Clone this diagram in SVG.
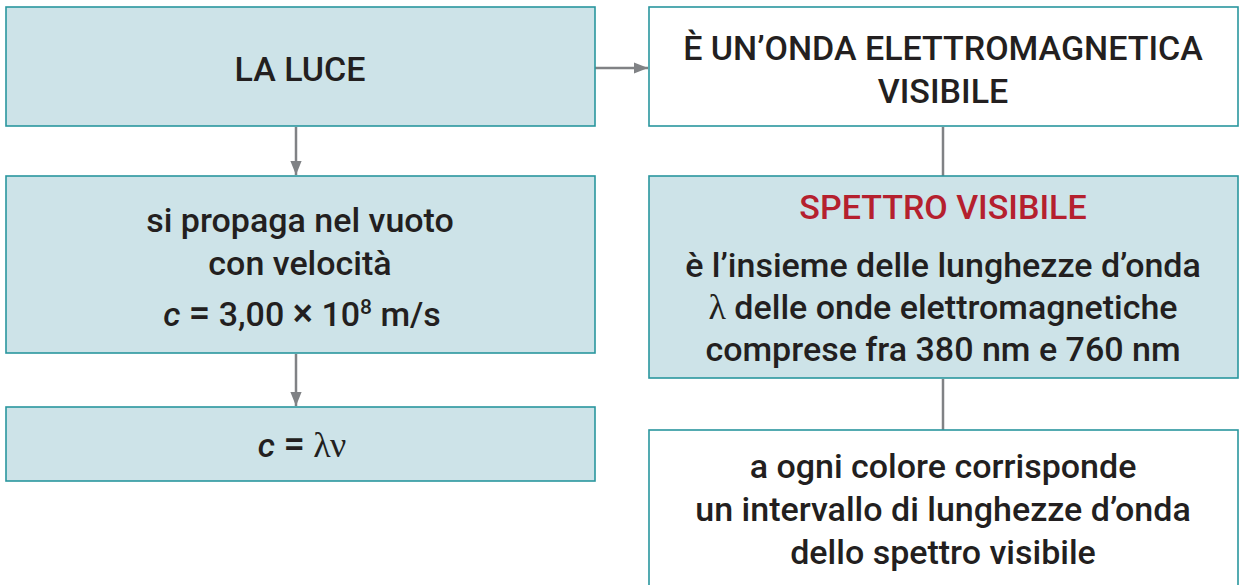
<svg xmlns="http://www.w3.org/2000/svg" width="1240" height="585" viewBox="0 0 1240 585">
<style>
.box{stroke:#2a969e;stroke-width:1.6}
.fill{fill:#cde3e8}
.white{fill:#ffffff}
.t{font-family:Roboto,"Liberation Sans",sans-serif;font-weight:500;font-size:34px;fill:#231f20;text-anchor:middle}
.red{fill:#b5202e}
.it{font-style:italic}
.gr{font-family:"Liberation Serif","DejaVu Serif",serif;font-weight:400;font-size:36px}
.eq{font-size:38px}
.conn{stroke:#808285;stroke-width:2.5;fill:none}
</style>
<defs>
<marker id="ah2" viewBox="0 0 10 10" refX="10" refY="5" markerWidth="14" markerHeight="14" markerUnits="userSpaceOnUse" orient="auto">
<path d="M0,1 L10,5 L0,9 Z" fill="#808285"/>
</marker>
</defs>
<rect width="1240" height="585" fill="#ffffff"/>
<g id="connectors">
<line class="conn" x1="595" y1="68" x2="648" y2="68" marker-end="url(#ah2)"/>
<line class="conn" x1="296" y1="127" x2="296" y2="175" marker-end="url(#ah2)"/>
<line class="conn" x1="296" y1="354" x2="296" y2="406" marker-end="url(#ah2)"/>
<line class="conn" x1="943" y1="127" x2="943" y2="176"/>
<line class="conn" x1="943" y1="379" x2="943" y2="430"/>
</g>
<g id="luce">
<rect class="box fill" x="6" y="7" width="589" height="119"/>
<text class="t" x="300" y="81">LA LUCE</text>
</g>
<g id="onda">
<rect class="box white" x="649" y="7" width="589" height="119"/>
<text class="t" x="943" y="60">È UN’ONDA ELETTROMAGNETICA</text>
<text class="t" x="943" y="103">VISIBILE</text>
</g>
<g id="propaga">
<rect class="box fill" x="6" y="176" width="589" height="177"/>
<text class="t" x="300" y="232">si propaga nel vuoto</text>
<text class="t" x="300" y="275">con velocità</text>
<text class="t" x="302" y="326"><tspan class="it">c</tspan> <tspan class="eq">=</tspan> 3,00 <tspan class="eq">×</tspan> 10<tspan font-size="21" dy="-12">8</tspan><tspan dy="12"> m/s</tspan></text>
</g>
<g id="formula">
<rect class="box fill" x="6" y="407" width="589" height="74"/>
<text class="t" x="302" y="457"><tspan class="it">c</tspan> <tspan class="eq">=</tspan> <tspan class="gr">λν</tspan></text>
</g>
<g id="spettro">
<rect class="box fill" x="649" y="176" width="589" height="202"/>
<text class="t red" x="943" y="219">SPETTRO VISIBILE</text>
<text class="t" x="943" y="277">è l’insieme delle lunghezze d’onda</text>
<text class="t" x="943" y="319"><tspan class="gr">λ</tspan> delle onde elettromagnetiche</text>
<text class="t" x="943" y="361">comprese fra 380 nm e 760 nm</text>
</g>
<g id="colore">
<rect class="box white" x="649" y="430" width="589" height="160"/>
<text class="t" x="943" y="478">a ogni colore corrisponde</text>
<text class="t" x="943" y="521">un intervallo di lunghezze d’onda</text>
<text class="t" x="943" y="564">dello spettro visibile</text>
</g>
</svg>
